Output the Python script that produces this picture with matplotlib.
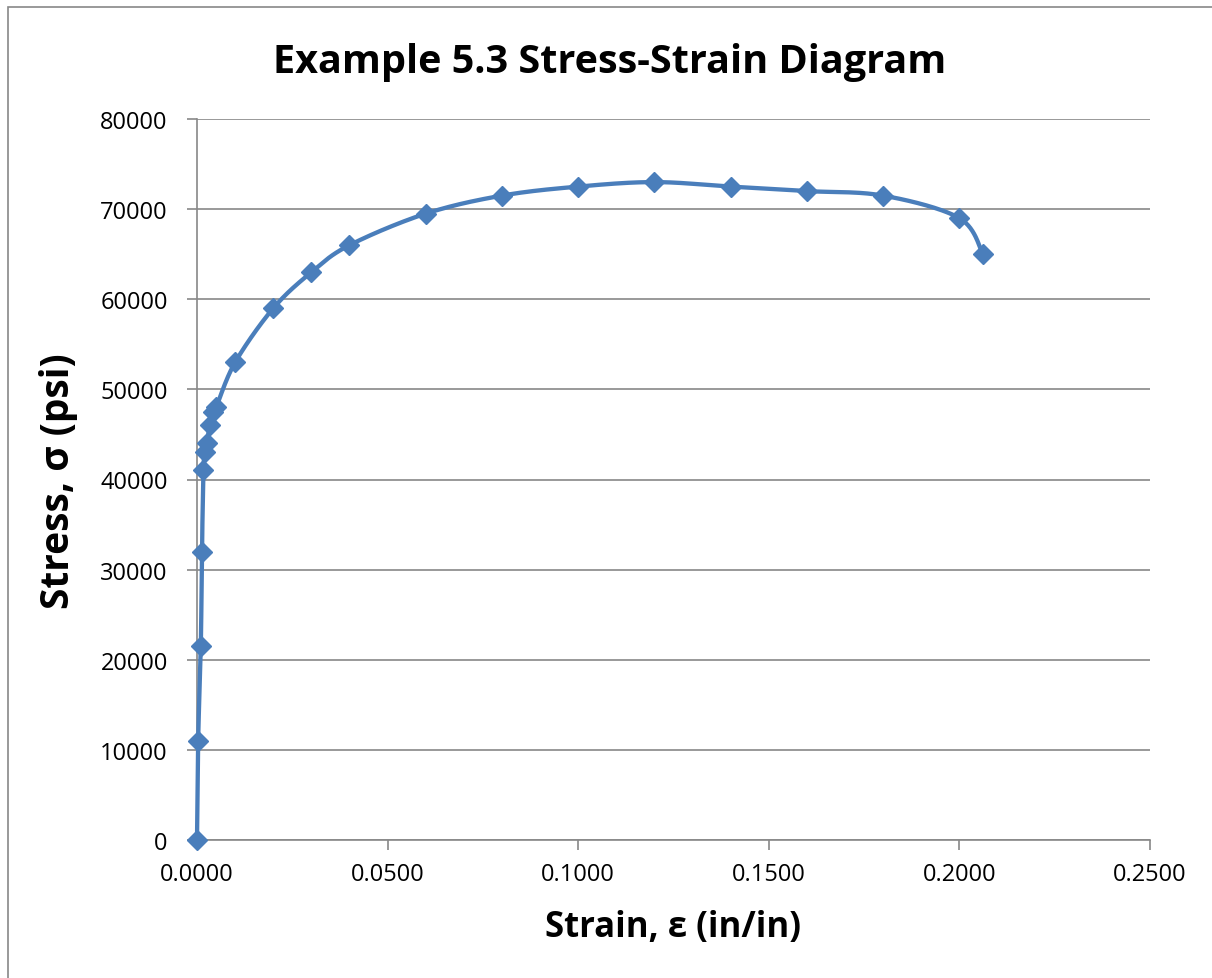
import numpy as np
import matplotlib
matplotlib.use("Agg")
import matplotlib.pyplot as plt
from matplotlib.patches import Rectangle

# data
strain = [0.0, 0.0003, 0.0010, 0.0013, 0.0017, 0.0020, 0.0026, 0.0033, 0.0042, 0.0050,
          0.0100, 0.0200, 0.0300, 0.0400, 0.0600, 0.0800, 0.1000, 0.1200, 0.1400,
          0.1600, 0.1800, 0.2000, 0.2062]
stress = [0, 11000, 21500, 32000, 41000, 43000, 44000, 46000, 47500, 48000,
          53000, 59000, 63000, 66000, 69500, 71500, 72500, 73000, 72500,
          72000, 71500, 69000, 65000]

xticks = [0.0, 0.05, 0.10, 0.15, 0.20, 0.25]
yticks = [0, 10000, 20000, 30000, 40000, 50000, 60000, 70000, 80000]

COLOR = "#4A7EBB"


def smooth_curve(x, y, n=30):
    # Excel-like smoothed line: Catmull-Rom style cubic Bezier through points
    x = np.asarray(x, float)
    y = np.asarray(y, float)
    # normalise to the axis scale so the tangents behave like on screen
    sx, sy = 1 / 0.25, 1 / 80000 * (721 / 953)
    px, py = x * sx, y * sy
    outx, outy = [], []
    for i in range(len(px) - 1):
        p0 = i - 1 if i > 0 else i
        p3 = i + 2 if i + 2 < len(px) else i + 1
        c1x = px[i] + (px[i + 1] - px[p0]) / 6
        c1y = py[i] + (py[i + 1] - py[p0]) / 6
        c2x = px[i + 1] - (px[p3] - px[i]) / 6
        c2y = py[i + 1] - (py[p3] - py[i]) / 6
        t = np.linspace(0, 1, n)
        bx = ((1 - t) ** 3 * px[i] + 3 * (1 - t) ** 2 * t * c1x
              + 3 * (1 - t) * t ** 2 * c2x + t ** 3 * px[i + 1])
        by = ((1 - t) ** 3 * py[i] + 3 * (1 - t) ** 2 * t * c1y
              + 3 * (1 - t) * t ** 2 * c2y + t ** 3 * py[i + 1])
        outx.extend(bx)
        outy.extend(by)
    return np.array(outx) / sx, np.array(outy) / sy


W, H = 1212, 979
fig = plt.figure(figsize=(W / 100, H / 100), dpi=100)
# chart area border (right and bottom edges fall outside the picture)
fig.patches.append(Rectangle((8 / W, -0.05), 1.1, 1.05 - 8 / H, transform=fig.transFigure,
                             fill=False, edgecolor="#888888", lw=1.2))

ax = fig.add_axes([197 / W, 1 - 841 / H, (1150 - 197) / W, (841 - 120) / H])

cx, cy = smooth_curve(strain, stress)
ax.plot(cx, cy, color=COLOR, lw=3.1, zorder=3, clip_on=False)
ax.plot(strain, stress, linestyle="none", marker="D", markersize=10,
        color=COLOR, zorder=4, clip_on=False)

ax.set_xlim(0, 0.25)
ax.set_ylim(0, 80000)
ax.set_xticks(xticks)
ax.set_yticks(yticks)
ax.set_xticklabels([f"{v:.4f}" for v in xticks])
ax.set_yticklabels([str(v) for v in yticks])
ax.yaxis.grid(True, color="#888888", lw=1.2)
ax.set_axisbelow(True)
for s in ["top", "right"]:
    ax.spines[s].set_visible(False)
ax.spines["left"].set_color("#888888")
ax.spines["bottom"].set_color("#888888")
ax.spines["left"].set_linewidth(1.2)
ax.spines["bottom"].set_linewidth(1.2)
ax.tick_params(axis="both", colors="#888888", labelcolor="black", labelsize=17,
               length=7, width=1.2, direction="out")
ax.tick_params(axis="x", pad=9)
ax.tick_params(axis="y", pad=14)
for lab in ax.get_xticklabels() + ax.get_yticklabels():
    lab.set_fontfamily("Open Sans")

fig.text(610 / W, 1 - 62 / H, "Example 5.3 Stress-Strain Diagram", ha="center", va="center",
         fontsize=28.5, fontweight="bold", family="Open Sans")
fig.text(673 / W, 1 - 928 / H, "Strain, ε (in/in)", ha="center", va="center",
         fontsize=25, fontweight="bold", family=["Open Sans", "DejaVu Sans"])
fig.text(58 / W, 1 - 481 / H, "Stress, σ (psi)", ha="center", va="center", rotation=90,
         fontsize=28, fontweight="bold", family=["Open Sans", "DejaVu Sans"])

fig.savefig("out.png", dpi=100)
